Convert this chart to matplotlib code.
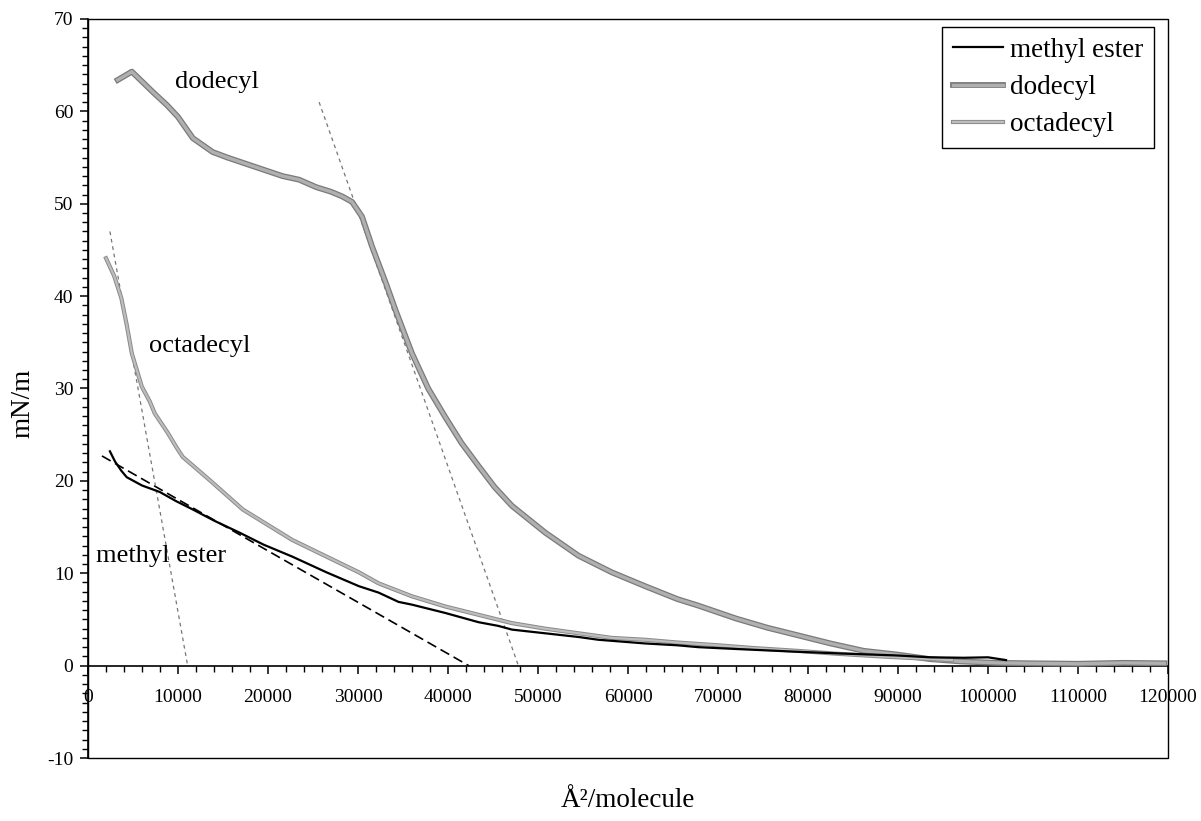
import matplotlib
matplotlib.use("Agg")
import matplotlib.pyplot as plt
import matplotlib.patheffects as pe
from matplotlib.patches import Rectangle
from matplotlib.ticker import MultipleLocator

plt.rcParams['font.family'] = ['Liberation Serif', 'DejaVu Serif']

# ---- data ----
dodecyl_x = [3300, 4000, 4870, 7200, 8750, 10000, 11650, 13850, 15500, 17930, 21600,
             23470, 25350, 27000, 28230, 29340, 30450, 31550, 33100, 34200, 36000, 37800,
             39700, 41500, 43400, 45200, 47100, 50800, 54500, 58200, 61900, 65500,
             67800, 72000, 75500, 78800, 82500, 86200, 89900, 93600, 97000, 101000,
             105000, 110000, 115000, 119600]
dodecyl_y = [63.4, 63.8, 64.3, 62.1, 60.7, 59.4, 57.1, 55.6, 55.0, 54.2, 53.0,
             52.6, 51.8, 51.3, 50.8, 50.2, 48.6, 45.4, 41.4, 38.4, 33.8, 30.0,
             26.9, 24.1, 21.6, 19.3, 17.3, 14.4, 11.9, 10.1, 8.6, 7.2,
             6.5, 5.1, 4.1, 3.3, 2.4, 1.6, 1.2, 0.7, 0.45, 0.3,
             0.25, 0.2, 0.3, 0.25]

octadecyl_x = [2000, 2900, 3700, 4300, 4870, 5980, 6860, 7420, 8860, 9850, 10520, 13500,
               17200, 22700, 30100, 32300, 36000, 39700, 43400, 47100, 50800, 54500,
               58200, 61900, 65500, 70000, 74000, 78800, 83000, 88000, 92000, 96000]
octadecyl_y = [44.1, 42.2, 39.8, 36.9, 33.8, 30.2, 28.6, 27.3, 25.2, 23.6, 22.6, 20.1,
               16.9, 13.6, 10.1, 8.9, 7.5, 6.4, 5.5, 4.6, 4.0, 3.5,
               3.0, 2.8, 2.5, 2.2, 1.9, 1.6, 1.3, 1.0, 0.8, 0.6]

methyl_x = [2435, 3000, 3700, 4300, 6000, 7970, 9800, 11650, 14000, 16830, 19500, 22700,
            26500, 30100, 32300, 34500, 36000, 39700, 43400, 45600, 47100, 50800,
            54500, 56700, 61900, 65500, 67800, 72000, 78800, 84000, 89900, 93600,
            97300, 100000, 102000]
methyl_y = [23.2, 22.1, 21.1, 20.4, 19.5, 18.8, 17.8, 16.9, 15.7, 14.4, 13.1, 11.8,
            10.1, 8.6, 7.9, 6.9, 6.6, 5.7, 4.7, 4.3, 3.9, 3.5,
            3.1, 2.8, 2.4, 2.2, 2.0, 1.8, 1.5, 1.3, 1.1, 0.9,
            0.85, 0.9, 0.6]

# tangent (extrapolation) lines
methyl_tan_x = [1550, 42300]
methyl_tan_y = [22.7, 0.0]
octadecyl_tan_x = [2435, 11070]
octadecyl_tan_y = [47.0, 0.0]
dodecyl_tan_x = [25680, 47820]
dodecyl_tan_y = [61.0, 0.0]

x_ticks = list(range(0, 120001, 10000))
y_ticks = list(range(-10, 71, 10))

# ---- figure ----
fig = plt.figure(figsize=(12.01, 8.21), dpi=100)
ax = fig.add_axes([88 / 1201, 1 - 758 / 821, 1080 / 1201, 739 / 821])

ln_me, = ax.plot(methyl_x, methyl_y, color='black', lw=1.6, label='methyl ester', zorder=4)
ln_do, = ax.plot(dodecyl_x, dodecyl_y, color='#b0b0b0', lw=2.4, label='dodecyl', zorder=3,
                 path_effects=[pe.Stroke(linewidth=4.2, foreground='#7a7a7a'), pe.Normal()])
ln_oc, = ax.plot(octadecyl_x, octadecyl_y, color='#bdbdbd', lw=1.6, label='octadecyl', zorder=3,
                 path_effects=[pe.Stroke(linewidth=3.0, foreground='#8a8a8a'), pe.Normal()])

ax.plot(methyl_tan_x, methyl_tan_y, color='black', lw=1.2, dashes=(6, 3), zorder=2)
ax.plot(octadecyl_tan_x, octadecyl_tan_y, color='#777777', lw=0.9, dashes=(3, 3), zorder=2)
ax.plot(dodecyl_tan_x, dodecyl_tan_y, color='#777777', lw=0.9, dashes=(3, 3), zorder=2)

ax.set_xlim(0, 120000)
ax.set_ylim(-10, 70)
ax.set_xticks(x_ticks)
ax.set_xticklabels([str(v) for v in x_ticks])
ax.set_yticks(y_ticks)
ax.set_yticklabels([str(v) for v in y_ticks])
ax.xaxis.set_minor_locator(MultipleLocator(2000))
ax.yaxis.set_minor_locator(MultipleLocator(1))

for s in ['top', 'right']:
    ax.spines[s].set_visible(False)
ax.spines['bottom'].set_position(('data', 0))
ax.spines['bottom'].set_linewidth(1.2)
ax.spines['left'].set_linewidth(1.2)
ax.add_patch(Rectangle((0, 0), 1, 1, transform=ax.transAxes, fill=False,
                       edgecolor='black', lw=1.0, zorder=5, clip_on=False))

ax.tick_params(axis='x', which='major', direction='out', length=6, width=1.1,
               pad=11, labelsize=14)
ax.tick_params(axis='x', which='minor', direction='out', length=4.5, width=1.0)
ax.tick_params(axis='y', which='major', direction='out', length=5.5, width=1.1,
               pad=5, labelsize=14)
ax.tick_params(axis='y', which='minor', direction='out', length=4, width=1.0)

ax.set_xlabel('Å²/molecule', fontsize=19.5)
ax.xaxis.set_label_coords(0.5, -0.040)
ax.set_ylabel('mN/m', fontsize=19.5)
ax.yaxis.set_label_coords(-0.049, 0.48)

ax.text(14300, 63.2, 'dodecyl', fontsize=19, ha='center', va='center')
ax.text(12400, 34.6, 'octadecyl', fontsize=19, ha='center', va='center')
ax.text(8140, 11.9, 'methyl ester', fontsize=19, ha='center', va='center', zorder=6)

leg = ax.legend(handles=[ln_me, ln_do, ln_oc], loc='upper right',
                bbox_to_anchor=(0.987, 0.989), fontsize=19.5, frameon=True,
                fancybox=False, edgecolor='black', framealpha=1,
                handlelength=1.85, handletextpad=0.25, borderpad=0.4,
                labelspacing=0.45, borderaxespad=0)
leg.get_frame().set_linewidth(1.0)

fig.savefig('out.png', dpi=100)
